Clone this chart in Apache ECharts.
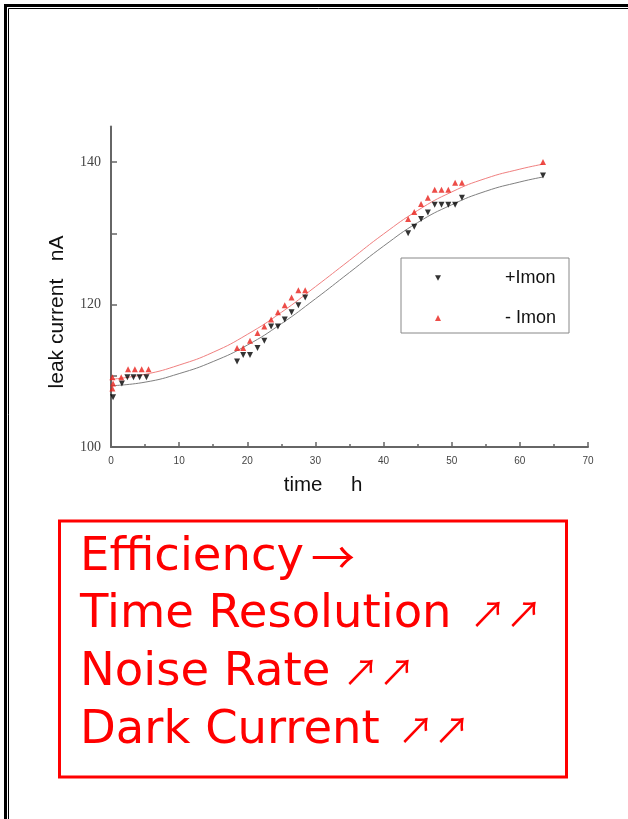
<!DOCTYPE html>
<html>
<head>
<meta charset="utf-8">
<script src="https://cdn.jsdelivr.net/npm/echarts@6/dist/echarts.min.js"></script>
<style>
html,body{margin:0;padding:0;background:#fff;}
#chart{width:628px;height:819px;}
</style>
</head>
<body>
<div id="chart"></div>
<script>
// ---- data ----
var plusTime = [0.3, 1.6, 2.4, 3.3, 4.2, 5.2,
  18.5, 19.4, 20.4, 21.5, 22.5, 23.5, 24.5, 25.5, 26.5, 27.5, 28.5,
  43.6, 44.5, 45.5, 46.5, 47.5, 48.5, 49.5, 50.5, 51.5, 63.4];
var plusCurrent = [107.0, 108.9, 109.8, 109.8, 109.8, 109.8,
  112.0, 112.9, 112.9, 113.9, 114.9, 116.9, 116.9, 117.9, 118.9, 119.9, 121.0,
  130.0, 130.9, 132.0, 132.9, 134.0, 134.0, 134.0, 134.0, 135.0, 138.1];

var minusTime = [0.2, 0.3, 0.2, 1.5, 2.5, 3.5, 4.5, 5.5,
  18.5, 19.4, 20.4, 21.5, 22.5, 23.5, 24.5, 25.5, 26.5, 27.5, 28.5,
  43.6, 44.5, 45.5, 46.5, 47.5, 48.5, 49.5, 50.5, 51.5, 63.4];
var minusCurrent = [108.2, 108.9, 109.8, 109.8, 110.9, 110.9, 110.9, 110.9,
  113.9, 113.9, 114.9, 116.0, 116.9, 117.9, 118.9, 119.9, 121.0, 122.0, 122.0,
  132.0, 133.0, 134.1, 135.0, 136.1, 136.1, 136.1, 137.1, 137.1, 140.0];

// fitted curves, read at intervals from the picture
var fitTime = [0, 5, 10, 15, 20, 25, 30, 35, 40, 45, 50, 55, 60, 63.4];
var fitPlus = [108.6, 109.1, 110.3, 112.0, 114.3, 117.3, 120.8, 124.5, 128.2, 131.5, 134.0, 135.9, 137.2, 137.9];
var fitMinus = [109.5, 110.2, 111.5, 113.3, 115.8, 118.9, 122.5, 126.2, 129.9, 133.2, 135.8, 137.7, 139.0, 139.7];

var yTicks = [100, 110, 120, 130, 140];
var yLabels = [100, 120, 140];
var seriesNames = ['+Imon', '- Imon'];

var summaryLines = ['Efficiency', 'Time Resolution', 'Noise Rate', 'Dark Current'];
var summaryArrows = ['\u2192', '\u2197\u2197', '\u2197\u2197', '\u2197\u2197'];

function zip(a, b) { return a.map(function (v, i) { return [v, b[i]]; }); }

var chart = echarts.init(document.getElementById('chart'), null, {renderer: 'canvas'});

var baseline = 572, lineStep = 57.7;
var arrowX = [311, 470, 343, 398];
var graphics = [
  {type: 'rect', shape: {x: 5.5, y: 5.5, width: 700, height: 900}, style: {fill: null, stroke: '#000', lineWidth: 3}, silent: true},
  {type: 'rect', shape: {x: 8.5, y: 8.5, width: 700, height: 900}, style: {fill: null, stroke: '#000', lineWidth: 1}, silent: true},
  {type: 'rect', shape: {x: 59.5, y: 521, width: 507, height: 256}, style: {fill: null, stroke: '#ff0000', lineWidth: 3}, silent: true},
  {type: 'text', x: 57, y: 312, rotation: Math.PI / 2,
    style: {text: 'leak current   nA', font: '21px "Liberation Sans", Arial, sans-serif', fill: '#111', align: 'center', verticalAlign: 'middle'}},
  {type: 'text', x: 323, y: 485,
    style: {text: 'time     h', font: '20.5px "Liberation Sans", Arial, sans-serif', fill: '#111', align: 'center', verticalAlign: 'middle'}}
];
summaryLines.forEach(function (s, i) {
  graphics.push({type: 'text', x: 80, y: baseline + i * lineStep - 38,
    style: {text: s, font: '46.5px "DejaVu Sans", sans-serif', fill: '#ff0000', verticalAlign: 'top', align: 'left'}});
  graphics.push({type: 'text', x: arrowX[i], y: baseline + i * lineStep - 15,
    style: {text: summaryArrows[i], font: (i === 0 ? '44px' : '36px') + ' "Noto Sans CJK JP", sans-serif', fill: '#ff0000', verticalAlign: 'middle', align: 'left'}});
});

var downTriangle = 'path://M0,0 L10,0 L5,9 Z';

var option = {
  backgroundColor: '#fff',
  animation: false,
  grid: {left: 111, right: 40, top: 126.4, bottom: 372, containLabel: false},
  legend: {
    data: seriesNames,
    orient: 'vertical',
    left: 401, top: 258,
    padding: [10, 13, 5, 34],
    itemGap: 20,
    itemWidth: 6, itemHeight: 6,
    borderColor: '#888', borderWidth: 1,
    textStyle: {fontSize: 18, lineHeight: 20, color: '#111', fontFamily: '"Liberation Sans", Arial, sans-serif', padding: [0, 0, 0, 59]}
  },
  xAxis: {
    type: 'value', min: 0, max: 70, interval: 10,
    axisLine: {show: true, onZero: false, lineStyle: {color: '#666', width: 2}},
    axisTick: {show: true, inside: true, length: 5, lineStyle: {color: '#666', width: 1.5}},
    minorTick: {show: true, splitNumber: 2, length: 3, lineStyle: {color: '#666', width: 1.5}},
    splitLine: {show: false},
    axisLabel: {fontSize: 10, color: '#444', margin: 9, fontFamily: '"Liberation Sans", Arial, sans-serif'}
  },
  yAxis: {
    type: 'value', min: 100, max: 145,
    axisLine: {show: true, onZero: false, lineStyle: {color: '#666', width: 2}},
    axisTick: {show: true, inside: true, length: 6, customValues: yTicks, lineStyle: {color: '#666', width: 1.5}},
    splitLine: {show: false},
    axisLabel: {customValues: yLabels, fontSize: 14, color: '#444', margin: 10, fontFamily: '"Liberation Serif", "Times New Roman", serif'}
  },
  series: [
    {name: 'fitPlus', type: 'line', data: zip(fitTime, fitPlus), smooth: true, showSymbol: false, symbol: 'none',
      lineStyle: {color: '#808080', width: 1}, silent: true, z: 1},
    {name: 'fitMinus', type: 'line', data: zip(fitTime, fitMinus), smooth: true, showSymbol: false, symbol: 'none',
      lineStyle: {color: '#f08080', width: 1}, silent: true, z: 1},
    {name: seriesNames[0], type: 'scatter', data: zip(plusTime, plusCurrent), symbol: downTriangle,
      symbolSize: 6, itemStyle: {color: '#000'}, z: 3},
    {name: seriesNames[1], type: 'scatter', data: zip(minusTime, minusCurrent), symbol: 'triangle',
      symbolSize: 6, itemStyle: {color: '#e8201a'}, z: 3}
  ],
  graphic: graphics
};
chart.setOption(option);
</script>
</body>
</html>
